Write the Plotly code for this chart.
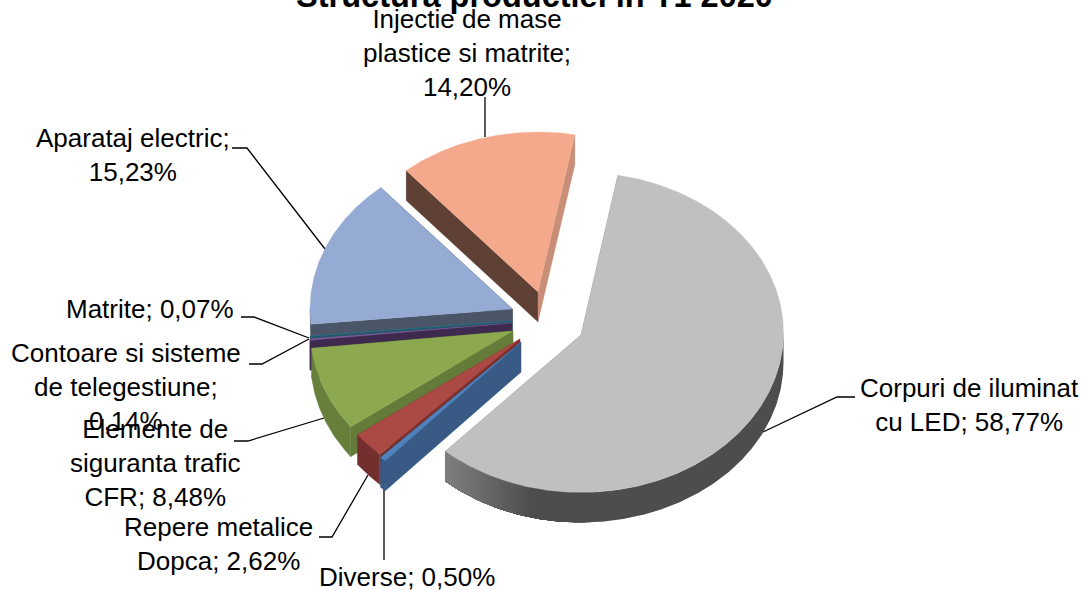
import math
import plotly.graph_objects as go

# ---- data ----
categories = ["Corpuri de iluminat cu LED", "Diverse", "Repere metalice Dopca",
              "Elemente de siguranta trafic CFR", "Contoare si sisteme de telegestiune",
              "Matrite", "Aparataj electric", "Injectie de mase plastice si matrite"]
values = [58.77, 0.50, 2.62, 8.48, 0.14, 0.07, 15.23, 14.20]
value_labels = ["58,77%", "0,50%", "2,62%", "8,48%", "0,14%", "0,07%", "15,23%", "14,20%"]
title_text = "Structura productiei in T1 2020"

# ---- styling / layout, per slice ----
top_colors = ["#C0C0C0", "#4F81BD", "#AB4A45", "#8CA94F", "#7E5F9F", "#31859C", "#95ABD3", "#F4A98C"]
edge_a = ["#808080", "#385A84", "#722F2E", "#657B39", "#3E2A4F", "#215968", "#4A5568", "#5E4035"]
edge_b = ["#808080", "#385A84", "#7D2F2C", "#657B39", "#3E2A4F", "#215968", "#4A5568", "#C98E78"]
arc_colors = [None, "#385A84", "#722F2E", "#677F3B", "#3E2A4F", "#215968", "#4A5568", "#C98E78"]
apex_x = [581, 521, 520, 513, 511.5, 512, 512.5, 538]
apex_y = [335, 342, 339, 331, 323, 321, 309, 292]
arc_shift = [-2.5, 0, 0, 0, 0, 0, 0, 0]
paint_order = [7, 6, 5, 4, 3, 2, 1, 0]
RX, RY, DEPTH, START = 202.5, 160, 30, 10.5

label_lines = {
    0: (969, 405), 1: (407, 577), 2: (218, 544), 3: (155, 463),
    4: (126, 387), 5: (150, 309), 6: (133, 155), 7: (467, 53),
}
label_text = {
    0: "Corpuri de iluminat<br>cu LED; ", 1: "Diverse; ", 2: "Repere metalice<br>Dopca; ",
    3: "Elemente de<br>siguranta trafic<br>CFR; ", 4: "Contoare si sisteme<br>de telegestiune;<br>",
    5: "Matrite; ", 6: "Aparataj electric;<br>", 7: "Injectie de mase<br>plastice si matrite;<br>",
}
leaders = [
    "M855,397 L837,397 L763,432", "M485,97 L485,137", "M232,148 L247,148 L325,249",
    "M241,317 L254,317 L309,338", "M249,364 L262,364 L309,339",
    "M234,441 L248,441 L324,418", "M319,537 L332,537 L368,475", "M384,560 L384,488",
]

total = sum(values)
angles = [START]
for v in values:
    angles.append(angles[-1] + v / total * 360)


def pt(i, t, dy=0):
    a = math.radians(t)
    return apex_x[i] + RX * math.sin(a), apex_y[i] + arc_shift[i] - RY * math.cos(a) + dy


def arc(i, t0, t1, dy=0, step=0.5):
    n = max(2, int(abs(t1 - t0) / step) + 1)
    return [pt(i, t0 + (t1 - t0) * k / (n - 1), dy) for k in range(n)]


def poly(fig, pts, color, name, width=0.3):
    fig.add_trace(go.Scatter(
        x=[p[0] for p in pts] + [pts[0][0]], y=[p[1] for p in pts] + [pts[0][1]],
        mode="lines", fill="toself", fillcolor=color,
        line=dict(color=color, width=width), name=name, hoverinfo="name", showlegend=False))


fig = go.Figure()
for i in paint_order:
    t0, t1 = angles[i], angles[i + 1]
    ax, ay = apex_x[i], apex_y[i]
    name = categories[i]
    # straight side walls
    for t, col in ((t0, edge_a[i]), (t1, edge_b[i])):
        px, py = pt(i, t)
        poly(fig, [(ax, ay), (px, py), (px, py + DEPTH), (ax, ay + DEPTH)], col, name)
    # curved outer wall (front half only)
    a0, a1 = max(t0, 90), min(t1, 270)
    if a1 > a0:
        if arc_colors[i] is None:
            # shaded wall: single base, then lighter overlapping bands towards its left end
            x_end = pt(i, t1)[0]
            poly(fig, arc(i, a0, a1) + arc(i, a1, a0, DEPTH), "rgb(77,77,77)", name, 0)
            steps = 30
            band_start = a1 - 45
            for k in range(steps):
                s0 = band_start + (a1 - band_start) * k / steps
                mid = pt(i, s0)[0]
                f = max(0.0, min(1.0, (mid - x_end) / 90))
                g = round(128 + (77 - 128) * f)
                poly(fig, arc(i, s0, a1) + arc(i, a1, s0, DEPTH), f"rgb({g},{g},{g})", name, 0)
        else:
            poly(fig, arc(i, a0, a1) + arc(i, a1, a0, DEPTH), arc_colors[i], name)
    # top face
    poly(fig, [(ax, ay)] + arc(i, t0, t1), top_colors[i], name)

annotations = []
for i in [7, 6, 5, 4, 3, 2, 1, 0]:
    x, y = label_lines[i]
    annotations.append(dict(
        x=x, y=y, xref="x", yref="y", xanchor="center", yanchor="middle", align="center",
        text=label_text[i] + value_labels[i], showarrow=False,
        font=dict(family="Liberation Sans, Arial", size=26, color="#000000")))

fig.update_layout(
    width=1086, height=590, autosize=False,
    margin=dict(l=0, r=0, t=0, b=0),
    paper_bgcolor="white", plot_bgcolor="white", showlegend=False,
    title=dict(text=f"<b>{title_text}</b>", x=534.5 / 1086, xanchor="center", xref="paper",
               y=1 - 7 / 590, yref="paper", yanchor="bottom", automargin=False,
               font=dict(family="Liberation Sans, Arial", size=32.5, color="#000000")),
    xaxis=dict(range=[0, 1086], visible=False, fixedrange=True),
    yaxis=dict(range=[590, 0], visible=False, fixedrange=True),
    annotations=annotations,
    shapes=[dict(type="path", path=p, xref="x", yref="y", layer="below",
                 line=dict(color="#000000", width=1.3)) for p in leaders],
)
fig.write_html("out.html", config={"displayModeBar": False},
               post_script="document.body.style.margin='0';document.documentElement.style.overflow='hidden';")
